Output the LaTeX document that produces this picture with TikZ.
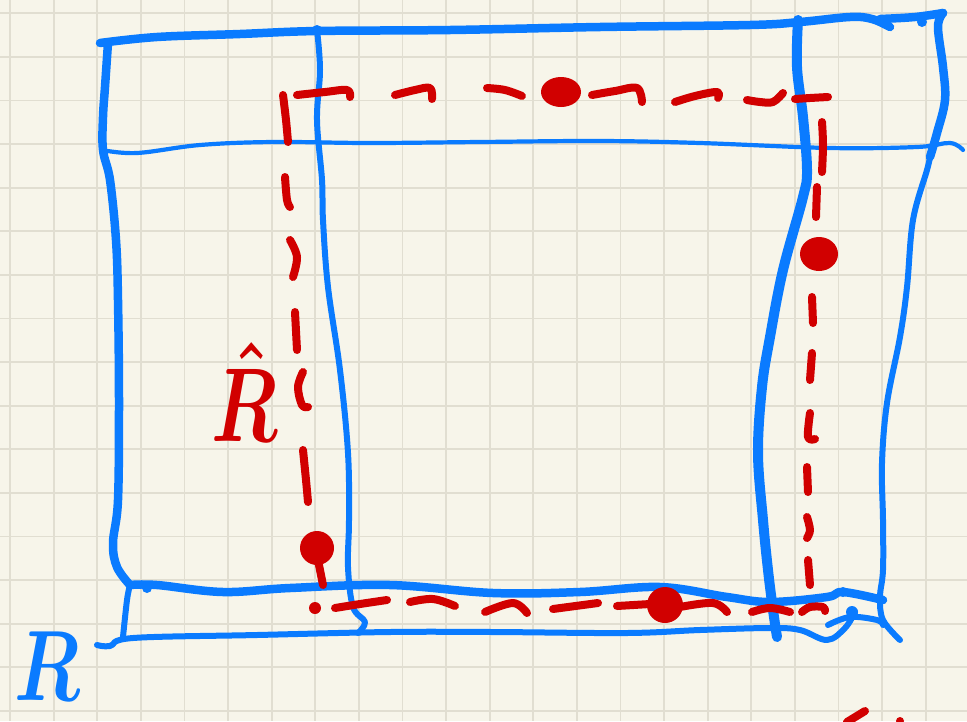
\RequirePackage{fix-cm}
\documentclass[tikz,border=0pt]{standalone}
\usepackage{amsmath}
\definecolor{paper}{HTML}{F7F5EA}
\definecolor{gridc}{HTML}{E1DED1}
\definecolor{inkblue}{HTML}{0A7BFF}
\definecolor{inkred}{HTML}{D10000}
\tikzset{
  ink/.style={line cap=round, line join=round},
  bluebold/.style={ink, draw=inkblue, line width=8.5pt},
  bluemid/.style={ink, draw=inkblue, line width=6pt},
  bluefine/.style={ink, draw=inkblue, line width=4.2pt},
  reddash/.style={ink, draw=inkred, line width=8pt},
  reddot/.style={fill=inkred, draw=none},
  hand/.style={smooth, tension=0.6},
}
\begin{document}
\begin{tikzpicture}[x=1pt,y=-1pt]
\useasboundingbox (0,0) rectangle (967,721);
\clip (0,0) rectangle (967,721);
% paper
\fill[paper] (0,0) rectangle (967,721);
\foreach \k in {0,...,21} {\draw[gridc, line width=1.8pt] ({10+43.6*\k},0) -- ({10+43.6*\k},721);}
\foreach \k in {0,...,16} {\draw[gridc, line width=1.8pt] (0,{13.3+43.6*\k}) -- (967,{13.3+43.6*\k});}

% ---------- blue frame ----------
% top edge
\draw[bluebold] plot[hand] coordinates {(100,43) (157,37) (240,34) (317,31) (450,30) (600,27) (750,25) (800,22) (850,17) (872,19) (890,27)};
\draw[bluebold] plot[hand] coordinates {(880,19) (915,17) (943,13)};
\fill[inkblue] (922,22) circle (5);
\fill[inkblue] (317,30) circle (5);
% left outer side
\draw[bluebold] plot[hand] coordinates {(108,43) (105,87) (103,117) (103,150) (110,180) (116,240) (118,300) (119,400) (118,500) (113,543) (117,567) (130,585)};
\draw[bluemid] plot[hand] coordinates {(130,585) (127,600) (123,637)};
% second horizontal
\draw[bluefine] plot[hand] coordinates {(102,150) (137,153) (200,145) (273,142) (370,143) (480,142) (600,141) (700,143) (830,148) (917,147) (950,143) (963,150)};
% left inner vertical
\draw[bluemid] plot[hand] coordinates {(317,30) (320,70) (317,120) (322,180) (323,220) (328,287) (340,370) (348,453) (349,520) (348,567) (353,607) (365,622) (358,633)};
% right inner vertical
\draw[ink, draw=inkblue, line width=10pt] plot[hand] coordinates {(798,20) (797,67) (803,117) (807,170) (803,197) (783,270) (770,337) (762,387) (758,453) (763,520) (768,570) (773,610) (777,637)};
% right outer vertical
\draw[bluebold] plot[hand] coordinates {(943,13) (938,27) (943,67) (945,100) (937,133) (930,157)};
\draw[bluemid] plot[hand] coordinates {(930,157) (927,170) (913,220) (907,287) (900,337) (887,403) (882,463) (883,520) (883,570) (880,597) (883,620) (900,640)};
% bottom thick edge
\draw[bluebold] plot[hand] coordinates {(130,585) (157,585) (223,592) (290,588) (390,585) (493,593) (580,592) (660,587) (727,597) (770,602) (827,597) (843,592) (883,600)};
\fill[inkblue] (147,588) circle (5);
\fill[inkblue] (843,592) circle (5);
% bottom-most edge
\draw[bluemid] plot[hand] coordinates {(97,645) (110,646) (133,638) (257,635) (390,632) (493,632) (627,633) (700,630) (770,628) (800,630) (827,640) (845,628) (855,612)};
\fill[inkblue] (852,612) circle (6);
\draw[bluemid] plot[hand] coordinates {(828,625) (850,617) (877,620) (883,625)};

% ---------- red dashed rectangle ----------
% top
\draw[reddash] plot[hand] coordinates {(283,95) (286,120) (288,142)};
\draw[reddash] plot[hand] coordinates {(297,95) (325,92) (347,90) (350,97)};
\draw[reddash] plot[hand] coordinates {(395,95) (415,90) (430,88) (432,99)};
\draw[reddash] plot[hand] coordinates {(487,88) (505,90) (522,96)};
\fill[reddot] (561,92) ellipse [x radius=20, y radius=15];
\draw[reddash] plot[hand] coordinates {(592,95) (615,91) (637,88) (642,102)};
\draw[reddash] plot[hand] coordinates {(675,102) (695,96) (717,92) (718,98)};
\draw[reddash] plot[hand] coordinates {(747,100) (760,102) (773,102) (783,93)};
\draw[reddash] plot[hand] coordinates {(795,99) (810,98) (828,97)};
% right
\draw[reddash] plot[hand] coordinates {(822,122) (823,145) (822,172)};
\draw[reddash] plot[hand] coordinates {(817,187) (816,217)};
\fill[reddot] (819,254) ellipse [x radius=19, y radius=17];
\draw[reddash] plot[hand] coordinates {(812,297) (813,323)};
\draw[reddash] plot[hand] coordinates {(812,353) (810,380)};
\draw[reddash] plot[hand] coordinates {(810,413) (808,437) (815,439)};
\draw[reddash] plot[hand] coordinates {(807,467) (808,492)};
\draw[reddash] plot[hand] coordinates {(807,517) (810,530) (807,538)};
\draw[reddash] plot[hand] coordinates {(808,560) (810,585)};
% bottom
\draw[reddash] plot[hand] coordinates {(802,612) (810,607) (823,607) (825,611)};
\draw[reddash] plot[hand] coordinates {(752,612) (770,608) (790,612)};
\draw[reddash] plot[hand] coordinates {(680,607) (713,603) (727,612)};
\fill[reddot] (665,605) circle (18);
\draw[reddash] plot[hand] coordinates {(617,606) (650,604)};
\draw[reddash] plot[hand] coordinates {(553,609) (598,603)};
\draw[reddash] plot[hand] coordinates {(485,612) (513,603) (527,613)};
\draw[reddash] plot[hand] coordinates {(410,602) (433,599) (455,606)};
\draw[reddash] plot[hand] coordinates {(335,608) (360,604) (387,600)};
\fill[reddot] (315,608) circle (6);
% left
\fill[reddot] (317,548) circle (17);
\draw[reddash] plot[hand] coordinates {(318,560) (321,575) (323,585)};
\draw[reddash] plot[hand] coordinates {(303,450) (306,480) (308,502)};
\draw[reddash] plot[hand] coordinates {(303,372) (298,387) (302,405) (308,407)};
\draw[reddash] plot[hand] coordinates {(295,312) (297,350)};
\draw[reddash] plot[hand] coordinates {(290,240) (297,257) (293,277)};
\draw[reddash] plot[hand] coordinates {(285,177) (287,200) (290,207)};
% cut-off red mark at the bottom edge
\draw[reddash] (847,722) -- (865,711);
\fill[reddot] (900,721) circle (4);

% ---------- labels ----------
\node[text=inkred, inner sep=0pt, xscale=0.72, font=\boldmath\fontsize{105}{105}\selectfont] (rhat) at (245,392) {$\hat{R}$};
\node[text=inkblue, inner sep=0pt, xscale=0.75, font=\boldmath\fontsize{100}{100}\selectfont] (bigr) at (47,666) {$R$};
\end{tikzpicture}
\end{document}
